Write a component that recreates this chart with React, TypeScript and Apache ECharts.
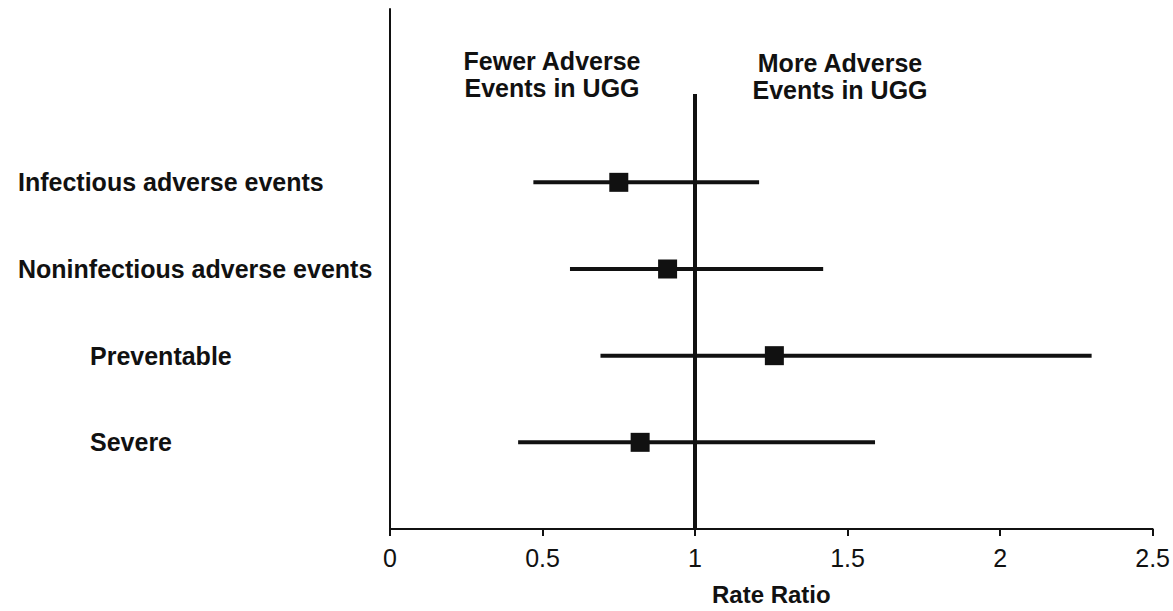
import React, { useEffect, useRef } from "react";
import * as echarts from "echarts";

const labels = [
  "Infectious adverse events",
  "Noninfectious adverse events",
  "Preventable",
  "Severe",
];
const indented = [false, false, true, true];
const estimate = [0.75, 0.91, 1.26, 0.82];
const lower = [0.47, 0.59, 0.69, 0.42];
const upper = [1.21, 1.42, 2.3, 1.59];
const xTicks = [0, 0.5, 1, 1.5, 2, 2.5];
const leftNote = "Fewer Adverse\nEvents in UGG";
const rightNote = "More Adverse\nEvents in UGG";
const xName = "Rate Ratio";

const FONT = "'Liberation Sans', Arial, Helvetica, sans-serif";
const ROW0 = 2;

export default function App() {
  const ref = useRef<HTMLDivElement>(null);
  useEffect(() => {
    if (!ref.current) return;
    const chart = echarts.init(ref.current, null, { renderer: "svg" });
    const rows = labels.map((_, i) => i + ROW0);
    chart.setOption({
      animation: false,
      backgroundColor: "#ffffff",
      grid: { left: 390, right: 19, top: 9, bottom: 79, containLabel: false },
      xAxis: {
        type: "value",
        position: "bottom",
        min: xTicks[0],
        max: xTicks[xTicks.length - 1],
        interval: 0.5,
        name: xName,
        nameLocation: "middle",
        nameGap: 53,
        nameTextStyle: { fontFamily: FONT, fontWeight: "bold", fontSize: 24, color: "#111" },
        axisLine: { show: true, onZero: false, lineStyle: { color: "#111", width: 2 } },
        axisTick: { show: true, length: 7, lineStyle: { color: "#111", width: 2 } },
        axisLabel: {
          fontFamily: FONT,
          fontSize: 25,
          color: "#111",
          margin: 16,
          formatter: (v: number) => String(v),
        },
        splitLine: { show: false },
      },
      yAxis: {
        type: "value",
        inverse: true,
        min: 0,
        max: 6,
        interval: 1,
        axisLine: { show: true, onZero: false, lineStyle: { color: "#111", width: 2 } },
        axisTick: { show: false },
        splitLine: { show: false },
        axisLabel: {
          align: "left",
          margin: 372,
          showMinLabel: true,
          showMaxLabel: true,
          formatter: (v: number) => {
            const i = v - ROW0;
            if (i < 0 || i >= labels.length) return "";
            return indented[i] ? `{ind|${labels[i]}}` : `{n|${labels[i]}}`;
          },
          rich: {
            n: { fontFamily: FONT, fontWeight: "bold", fontSize: 25, color: "#111" },
            ind: {
              fontFamily: FONT,
              fontWeight: "bold",
              fontSize: 25,
              color: "#111",
              padding: [0, 0, 0, 72],
            },
          },
        },
      },
      graphic: [
        {
          type: "text",
          x: 552,
          y: 74,
          style: {
            text: leftNote,
            fontFamily: FONT,
            fontWeight: "bold",
            fontSize: 25,
            lineHeight: 27,
            fill: "#111",
            align: "center",
            verticalAlign: "middle",
          },
        },
        {
          type: "text",
          x: 840,
          y: 76,
          style: {
            text: rightNote,
            fontFamily: FONT,
            fontWeight: "bold",
            fontSize: 25,
            lineHeight: 27,
            fill: "#111",
            align: "center",
            verticalAlign: "middle",
          },
        },
      ],
      series: [
        {
          type: "custom",
          z: 2,
          data: rows.map((r, i) => [lower[i], upper[i], r]),
          renderItem: (params: any, api: any) => {
            const a = api.coord([api.value(0), api.value(2)]);
            const b = api.coord([api.value(1), api.value(2)]);
            return {
              type: "line",
              shape: { x1: a[0], y1: a[1], x2: b[0], y2: b[1] },
              style: { stroke: "#111", lineWidth: 4 },
            };
          },
          markLine: {
            silent: true,
            symbol: "none",
            label: { show: false },
            lineStyle: { color: "#111", width: 4, type: "solid" },
            data: [[{ coord: [1, 0.98] }, { coord: [1, 6] }]],
          },
        },
        {
          type: "scatter",
          z: 5,
          symbol: "rect",
          symbolSize: 19,
          itemStyle: { color: "#111", opacity: 1 },
          data: rows.map((r, i) => [estimate[i], r]),
        },
      ],
    });
    return () => chart.dispose();
  }, []);
  return (
    <div
      ref={ref}
      style={{ position: "absolute", left: 0, top: 0, width: 1173, height: 611 }}
    />
  );
}
